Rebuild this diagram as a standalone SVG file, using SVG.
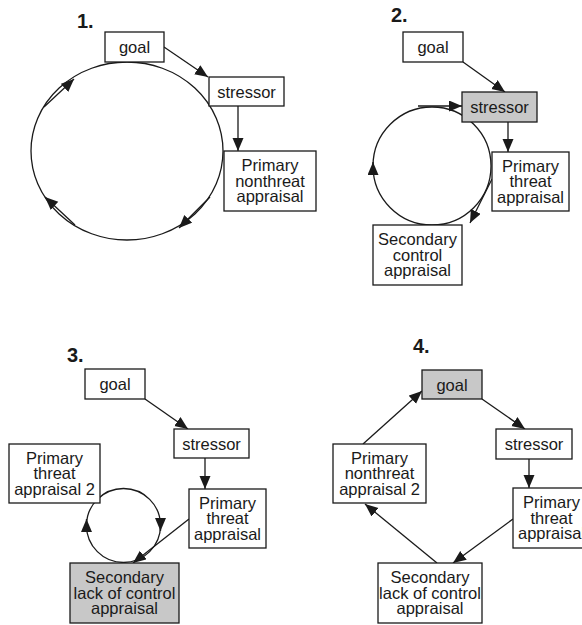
<svg xmlns="http://www.w3.org/2000/svg" width="582" height="625" viewBox="0 0 582 625">
<defs>
<marker id="ah" markerUnits="userSpaceOnUse" markerWidth="14" markerHeight="12" refX="13" refY="5.5" orient="auto" viewBox="0 0 14 12">
<path d="M0,0 L13,5.5 L0,11 z" fill="#1a1a1a"/>
</marker>
<style>
.b{fill:#fff;stroke:#1a1a1a;stroke-width:1.3}
.g{fill:#c8c8c8;stroke:#1a1a1a;stroke-width:1.3}
text{font-family:"Liberation Sans",Arial,sans-serif;font-size:16.5px;fill:#1a1a1a;text-anchor:middle}
.n{font-size:20px;font-weight:bold;text-anchor:start}
.c{fill:none;stroke:#1a1a1a;stroke-width:1.3}
.a{fill:none;stroke:#1a1a1a;stroke-width:1.3;marker-end:url(#ah)}
</style>
</defs>
<rect width="582" height="625" fill="#fff"/>

<!-- panel labels -->
<text class="n" x="77" y="28">1.</text>
<text class="n" x="391" y="22">2.</text>
<text class="n" x="67" y="362">3.</text>
<text class="n" x="413" y="353">4.</text>

<g id="connectors">
<!-- panel 1 -->
<ellipse class="c" cx="127" cy="151" rx="96" ry="89"/>
<line class="a" x1="164" y1="47" x2="208" y2="77"/>
<line class="a" x1="238" y1="106" x2="238" y2="151"/>
<line class="a" x1="44" y1="107" x2="74" y2="79"/>
<line class="a" x1="210" y1="197" x2="179" y2="228"/>
<line class="a" x1="75" y1="225" x2="45" y2="197"/>
<!-- panel 2 -->
<circle class="c" cx="432" cy="166" r="59"/>
<line class="a" x1="463" y1="62" x2="505" y2="92"/>
<line class="a" x1="508" y1="122" x2="508" y2="152"/>
<line class="a" x1="418" y1="106" x2="462" y2="106"/>
<line class="a" x1="373" y1="175" x2="373" y2="162"/>
<line class="a" x1="492" y1="179" x2="470" y2="223"/>
<!-- panel 3 -->
<circle class="c" cx="123.5" cy="525.5" r="37"/>
<line class="a" x1="145" y1="399" x2="188" y2="429"/>
<line class="a" x1="205" y1="458" x2="205" y2="489"/>
<line class="a" x1="160.5" y1="518" x2="160.5" y2="531"/>
<line class="a" x1="86.5" y1="532" x2="86.5" y2="519"/>
<line class="a" x1="189" y1="519" x2="133" y2="563"/>
<!-- panel 4 -->
<line class="a" x1="482" y1="399" x2="525" y2="429"/>
<line class="a" x1="529" y1="459" x2="529" y2="488"/>
<line class="a" x1="513" y1="519" x2="453" y2="563"/>
<line class="a" x1="437" y1="563" x2="365" y2="504"/>
<line class="a" x1="363" y1="444" x2="422" y2="391"/>
</g>

<!-- panel 1 nodes -->
<g id="p1-goal"><rect class="b" x="105" y="32" width="59" height="30"/><text x="134.5" y="53">goal</text></g>
<g id="p1-stressor"><rect class="b" x="209" y="77" width="75" height="29"/><text x="246.5" y="97.5">stressor</text></g>
<g id="p1-primary"><rect class="b" x="224" y="151" width="92" height="60"/><text x="270" y="171">Primary</text><text x="270" y="186.5">nonthreat</text><text x="270" y="202">appraisal</text></g>

<!-- panel 2 nodes -->
<g id="p2-goal"><rect class="b" x="403" y="32" width="60" height="30"/><text x="433" y="53">goal</text></g>
<g id="p2-stressor"><rect class="g" x="462" y="92" width="75" height="30"/><text x="499.5" y="113">stressor</text></g>
<g id="p2-primary"><rect class="b" x="492" y="152" width="77" height="59"/><text x="530.5" y="171.5">Primary</text><text x="530.5" y="187">threat</text><text x="530.5" y="202.5">appraisal</text></g>
<g id="p2-secondary"><rect class="b" x="373" y="225" width="89" height="60"/><text x="417.5" y="245">Secondary</text><text x="417.5" y="260.5">control</text><text x="417.5" y="276">appraisal</text></g>

<!-- panel 3 nodes -->
<g id="p3-goal"><rect class="b" x="85" y="369" width="60" height="30"/><text x="115" y="390">goal</text></g>
<g id="p3-stressor"><rect class="b" x="174" y="429" width="75" height="29"/><text x="211.5" y="449.5">stressor</text></g>
<g id="p3-primary"><rect class="b" x="189" y="489" width="77" height="59"/><text x="227.5" y="508.5">Primary</text><text x="227.5" y="524">threat</text><text x="227.5" y="539.5">appraisal</text></g>
<g id="p3-primary2"><rect class="b" x="9" y="444" width="91" height="59"/><text x="54.5" y="463.5">Primary</text><text x="54.5" y="479">threat</text><text x="54.5" y="494.5">appraisal 2</text></g>
<g id="p3-secondary"><rect class="g" x="70" y="563" width="109" height="60"/><text x="124.5" y="583">Secondary</text><text x="124.5" y="598.5">lack of control</text><text x="124.5" y="614">appraisal</text></g>

<!-- panel 4 nodes -->
<g id="p4-goal"><rect class="g" x="422" y="370" width="60" height="29"/><text x="452" y="390.5">goal</text></g>
<g id="p4-stressor"><rect class="b" x="496" y="429" width="76" height="30"/><text x="534" y="450">stressor</text></g>
<g id="p4-primary"><rect class="b" x="513" y="488" width="77" height="60"/><text x="551.5" y="508">Primary</text><text x="551.5" y="523.5">threat</text><text x="551.5" y="539">appraisal</text></g>
<g id="p4-primary2"><rect class="b" x="333" y="444" width="93" height="59"/><text x="379.5" y="463.5">Primary</text><text x="379.5" y="479">nonthreat</text><text x="379.5" y="494.5">appraisal 2</text></g>
<g id="p4-secondary"><rect class="b" x="378" y="563" width="104" height="60"/><text x="430" y="583">Secondary</text><text x="430" y="598.5">lack of control</text><text x="430" y="614">appraisal</text></g>
</svg>
